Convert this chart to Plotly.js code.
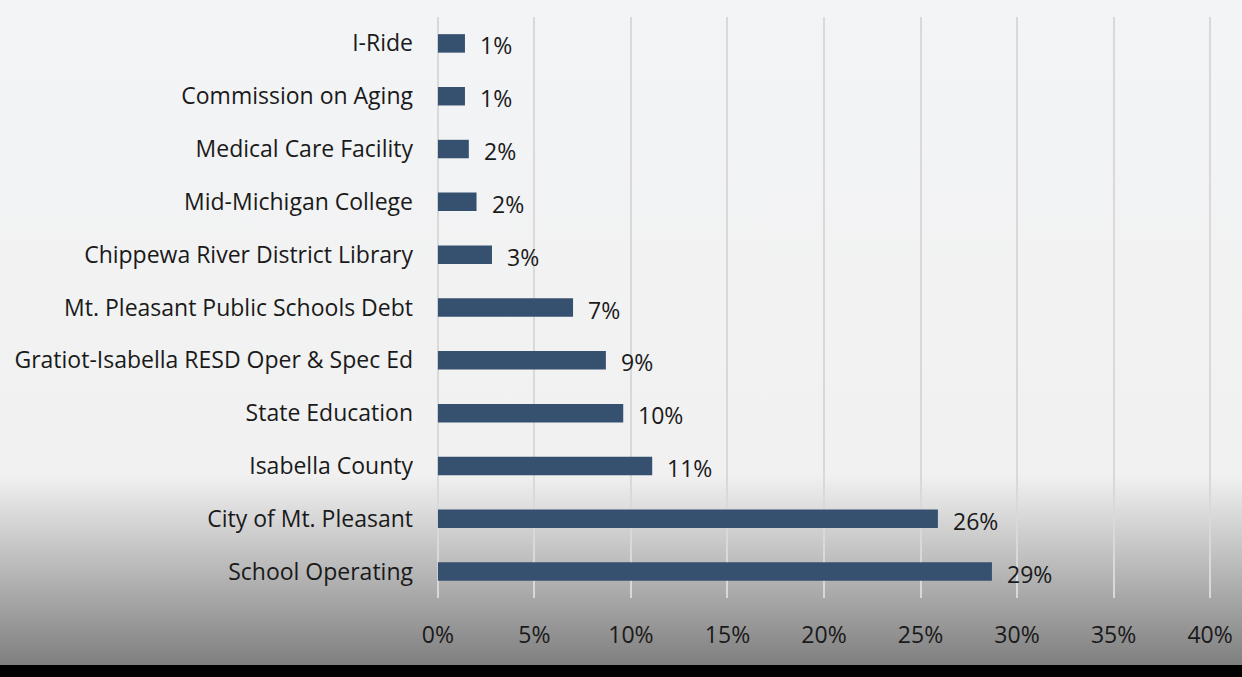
<!DOCTYPE html>
<html>
<head>
<meta charset="utf-8">
<script src="https://cdn.plot.ly/plotly-3.0.1.min.js"></script>
<style>
  html, body { margin: 0; padding: 0; }
  #chart {
    width: 1242px; height: 677px;
    background: linear-gradient(to bottom, #f3f4f6 0px, #f1f1f1 475px, #7f7f7f 665px, #000000 665px, #000000 677px);
  }
</style>
</head>
<body>
<div id="chart"></div>
<script>
const categories = [
  "I-Ride",
  "Commission on Aging",
  "Medical Care Facility",
  "Mid-Michigan College",
  "Chippewa River District Library",
  "Mt. Pleasant Public Schools Debt",
  "Gratiot-Isabella RESD Oper & Spec Ed",
  "State Education",
  "Isabella County",
  "City of Mt. Pleasant",
  "School Operating"
];
const shares = [1.4, 1.4, 1.6, 2.0, 2.8, 7.0, 8.7, 9.6, 11.1, 25.9, 28.7];
const shareLabels = ["1%", "1%", "2%", "2%", "3%", "7%", "9%", "10%", "11%", "26%", "29%"];
const tickValues = [0, 5, 10, 15, 20, 25, 30, 35, 40];

const FONT = "Segoe UI, 'Open Sans', 'Noto Sans', sans-serif";
const FS = 23;

const trace = {
  type: "bar",
  orientation: "h",
  x: shares,
  y: categories,
  width: 0.35,
  marker: { color: "#36506f" },
  hoverinfo: "skip"
};

const annotations = shares.map((v, i) => ({
  x: v, y: categories[i], xref: "x", yref: "y",
  text: shareLabels[i], showarrow: false,
  xanchor: "left", yanchor: "middle", xshift: 13, yshift: -2,
  font: { family: FONT, size: FS, color: "#1a1a1a" }
}));

const layout = {
  width: 1242, height: 677,
  margin: { l: 436, r: 30, t: 17, b: 79 },
  paper_bgcolor: "rgba(0,0,0,0)",
  plot_bgcolor: "rgba(0,0,0,0)",
  showlegend: false,
  xaxis: {
    range: [-0.1, 40.1],
    tickvals: tickValues,
    ticktext: tickValues.map(t => t + "%"),
    showgrid: true, gridcolor: "#d9d9d9", gridwidth: 2,
    zeroline: true, zerolinecolor: "#d9d9d9", zerolinewidth: 2,
    showline: false, ticks: "",
    ticklabelstandoff: 21,
    tickfont: { family: FONT, size: FS, color: "#1a1a1a" },
    fixedrange: true
  },
  yaxis: {
    type: "category",
    autorange: "reversed",
    showgrid: false, zeroline: false, showline: false, ticks: "",
    ticklabelstandoff: 22,
    tickfont: { family: FONT, size: FS, color: "#1a1a1a" },
    fixedrange: true
  },
  annotations: annotations
};

Plotly.newPlot("chart", [trace], layout, { displayModeBar: false, staticPlot: true });
</script>
</body>
</html>
